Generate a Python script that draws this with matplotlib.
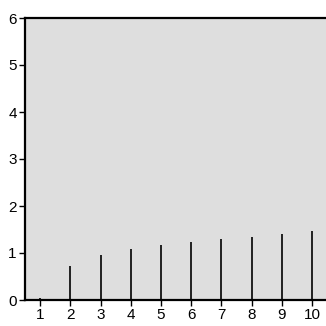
import matplotlib
matplotlib.use('Agg')
import matplotlib.pyplot as plt

plt.rcParams['font.family'] = ['Liberation Sans Narrow', 'Liberation Sans', 'DejaVu Sans']

# 每个位置的取值
x_vals = [1, 2, 3, 4, 5, 6, 7, 8, 9, 10]
y_vals = [0.04, 0.72, 0.96, 1.08, 1.16, 1.23, 1.29, 1.35, 1.40, 1.46]
x_ticks = [1, 2, 3, 4, 5, 6, 7, 8, 9, 10]
y_ticks = [0, 1, 2, 3, 4, 5, 6]

fig = plt.figure(figsize=(3.26, 3.26), dpi=100)
ax = fig.add_axes([25 / 326, 26 / 326, 302 / 326, 282 / 326])
ax.set_facecolor('#dedede')

ax.vlines(x_vals, 0, y_vals, colors='black', linewidth=1.2)

ax.set_xlim(0.5, 10.5)
ax.set_ylim(0, 6)
ax.set_xticks(x_ticks)
ax.set_yticks(y_ticks)
ax.tick_params(axis='both', direction='out', length=4, width=1, labelsize=11, pad=2)

for side in ['left', 'bottom', 'top']:
    ax.spines[side].set_linewidth(1.6)
ax.spines['right'].set_visible(False)

fig.savefig('out.png', dpi=100)
